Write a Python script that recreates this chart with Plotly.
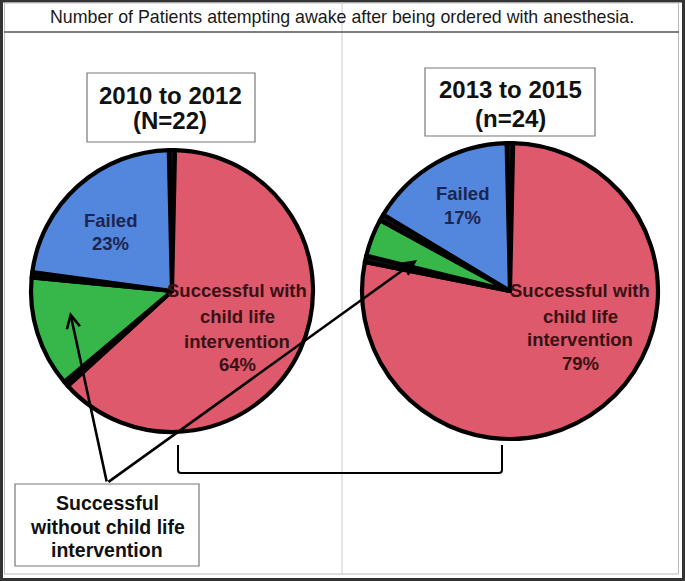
import plotly.graph_objects as go

W, H = 685, 581

# ---------------- data ----------------
title_text = "Number of Patients attempting awake after being ordered with anesthesia."

slice_names = ["gap", "Successful with child life intervention", "gap",
               "Successful without child life intervention", "gap", "Failed"]
slice_colors = ["#111111", "#DE596C", "#111111", "#37B74A", "#111111", "#5386DD"]

# percent of circle (clockwise from 12 o'clock)
values_2010_2012 = [0.7, 62.9, 0.6, 12.7, 0.6, 22.5]
values_2013_2015 = [0.7, 77.8, 0.7, 4.1, 0.7, 16.0]

period_labels = [["2010 to 2012", "(N=22)"], ["2013 to 2015", "(n=24)"]]
failed_labels = [["Failed", "23%"], ["Failed", "17%"]]
success_labels = [["Successful with", "child life", "intervention", "64%"],
                  ["Successful with", "child life", "intervention", "79%"]]
without_label = ["Successful", "without child life", "intervention"]

# ---------------- layout helpers (pixel geometry) ----------------
def pie_domain(cx, cy, r):
    return dict(x=[(cx - r) / W, (cx + r) / W],
                y=[(H - cy - r) / H, (H - cy + r) / H])

fig = go.Figure()

pie_geom = [(172, 291, 141), (510, 291, 148)]
for vals, (cx, cy, r) in zip([values_2010_2012, values_2013_2015], pie_geom):
    fig.add_trace(go.Pie(
        labels=[f"{n} {i}" for i, n in enumerate(slice_names)],
        values=vals,
        sort=False, direction="clockwise", rotation=-1.3,
        marker=dict(colors=slice_colors, line=dict(color="#000000", width=4.2)),
        textinfo="none", hoverinfo="skip", showlegend=False,
        domain=pie_domain(cx, cy, r),
    ))

FONT = "Liberation Sans, Arial, sans-serif"
ann = []
shapes = []

def lines(texts, x, ys, size, color="#111111", bold=True):
    for t, y in zip(texts, ys):
        ann.append(dict(x=x, y=y, xref="x", yref="y", text=(f"<b>{t}</b>" if bold else t),
                        showarrow=False, xanchor="center", yanchor="middle",
                        font=dict(family=FONT, size=size, color=color)))

# frame
shapes.append(dict(type="rect", xref="x", yref="y", x0=1.5, y0=1, x1=683.5, y1=579.5,
                   line=dict(color="#333333", width=3), layer="below"))
shapes.append(dict(type="rect", xref="x", yref="y", x0=4.5, y0=3, x1=678.5, y1=574,
                   line=dict(color="#BBBBBB", width=1), layer="below"))
shapes.append(dict(type="line", xref="x", yref="y", x0=342, y0=2, x1=342, y1=574,
                   line=dict(color="#CCCCCC", width=1), layer="below"))
shapes.append(dict(type="line", xref="x", yref="y", x0=4, y0=32, x1=679, y1=32,
                   line=dict(color="#555555", width=1.5), layer="below"))

# title
lines([title_text], 342, [17], 17.8, color="#1a1a1a", bold=False)

# period boxes
shapes.append(dict(type="rect", xref="x", yref="y", x0=87, y0=73, x1=255, y1=142,
                   line=dict(color="#777777", width=1.2), fillcolor="white"))
shapes.append(dict(type="rect", xref="x", yref="y", x0=425, y0=68, x1=595, y1=136,
                   line=dict(color="#777777", width=1.2), fillcolor="white"))
lines(period_labels[0], 170, [95, 120], 24)
lines(period_labels[1], 510, [89, 118], 24)

# slice labels
lines(failed_labels[0], 110, [220, 243], 18.5, color="#1B2550")
lines(failed_labels[1], 462, [193, 217], 18.5, color="#1B2550")
lines(success_labels[0], 237, [290, 316.5, 341.5, 364], 18.5, color="#3A1214")
lines(success_labels[1], 580, [290, 316.5, 339.5, 363], 18.5, color="#3A1214")

# bottom box
shapes.append(dict(type="rect", xref="x", yref="y", x0=15, y0=484, x1=199, y1=566,
                   line=dict(color="#777777", width=1.2), fillcolor="white"))
lines(without_label, 107, [502.5, 526.5, 550], 19.5)

# arrows from the box to the green slices
for hx, hy in [(70, 312), (417, 260)]:
    ann.append(dict(x=hx, y=hy, xref="x", yref="y", ax=107, ay=483, axref="x", ayref="y",
                    text="", showarrow=True, arrowhead=5, arrowsize=1.0, arrowwidth=2.6,
                    arrowcolor="#000000", standoff=0, startstandoff=0))

# bracket joining the two pies
shapes.append(dict(type="path", xref="x", yref="y",
                   path="M178,445 L178,470 Q178,473 181,473 L499,473 Q502,473 502,470 L502,445",
                   line=dict(color="#000000", width=2)))

fig.update_layout(
    width=W, height=H, margin=dict(l=0, r=0, t=0, b=0),
    paper_bgcolor="white", plot_bgcolor="rgba(0,0,0,0)",
    xaxis=dict(range=[0, W], visible=False, fixedrange=True),
    yaxis=dict(range=[H, 0], visible=False, fixedrange=True),
    annotations=ann, shapes=shapes, showlegend=False,
)

fig.write_html(
    "out.html",
    config={"displayModeBar": False},
    post_script="document.body.style.margin='0';document.body.style.padding='0';"
                "document.documentElement.style.overflow='hidden';",
)
